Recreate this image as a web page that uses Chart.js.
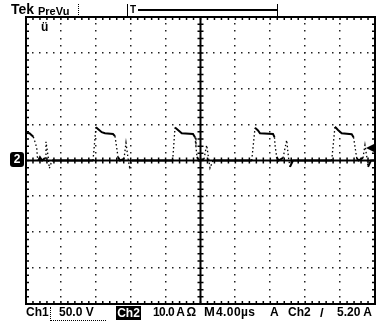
<!DOCTYPE html>
<html>
<head>
<meta charset="utf-8">
<script src="https://cdn.jsdelivr.net/npm/chart.js@4.4.1/dist/chart.umd.min.js"></script>
<style>
  html, body { margin: 0; padding: 0; background: #fff; }
  #scope { position: relative; width: 380px; height: 326px; overflow: hidden;
    font-family: 'Liberation Sans', Arial, sans-serif; font-weight: bold; color: #000; }
  #scope canvas { position: absolute; left: 0; top: 0; }
  .lbl { position: absolute; font-size: 11px; line-height: 12px; white-space: nowrap; }
  .bot { font-size: 12px; line-height: 13px; top: 306px; }
  .inv { background: #000; color: #fff; text-align: center; }
  .line { position: absolute; background: #000; }
</style>
</head>
<body>
<div id="scope">
  <canvas id="scopeChart" width="380" height="326"></canvas>

  <span class="lbl" style="left:11px; top:2px; font-size:14px; line-height:14px">Tek</span>
  <span class="lbl" style="left:38px; top:5px">PreVu</span>
  <div class="line" style="left:78px; top:4px; width:0; height:11px; background:none; border-left:1px dotted #000"></div>
  <div class="line" style="left:127px; top:4px; width:1px; height:12px"></div>
  <span class="lbl" style="left:130px; top:4px; font-size:10px">T</span>
  <div class="line" style="left:138px; top:9px; width:140px; height:2px"></div>
  <div class="line" style="left:277px; top:4px; width:1px; height:12px"></div>

  <span class="lbl" style="left:41px; top:21px; font-size:12px">ü</span>
  <span class="lbl inv" style="left:10px; top:152px; width:14px; height:15px; line-height:15px; border-radius:3px; font-size:12px">2</span>

  <span class="lbl bot" style="left:26px">Ch1</span>
  <div class="line" style="left:50px; top:307px; width:55px; height:13px; background:none; border-left:1px dotted #000; border-bottom:1px dotted #000"></div>
  <span class="lbl bot" id="readCh1Scale" style="left:59px"></span>
  <span class="lbl bot inv" style="left:116px; top:306px; width:25px; height:14px; line-height:14px">Ch2</span>
  <span class="lbl bot" id="readCh2Scale" style="left:153px; letter-spacing:-0.6px"></span>
  <span class="lbl bot" style="left:204px; top:305px; font-size:13px">M</span>
  <span class="lbl bot" id="readTime" style="left:216px; letter-spacing:0.4px"></span>
  <span class="lbl bot" style="left:270px">A</span>
  <span class="lbl bot" id="readTrigSrc" style="left:288px"></span>
  <span class="lbl bot" style="left:320px; font-size:13px">/</span>
  <span class="lbl bot" id="readTrigLevel" style="left:337px"></span>
</div>

<script>
// screen settings
const xDivs = 10;
const yDivs = 8;
const usPerDiv = 4.0;
const ampsPerDiv = 10.0;
const voltsPerDivCh1 = 50.0;
const trigLevelAmps = 5.20;
const trigMarkerAmps = 3.5;   // where the level arrow sits on screen

// Ch2 current trace: time (µs from left edge) and amps
const timeUs = [
  0, 0.4, 0.84, 1.03, 1.23, 1.30, 1.41, 1.6, 1.85, 2.18, 2.29, 2.56, 2.67, 2.98,
  7.68, 8.02, 8.25, 8.68, 9.05, 9.97, 10.2, 10.4, 10.54, 10.77, 11.23, 11.46, 11.69, 11.86, 12.15,
  16.81, 17.08, 17.42, 17.85, 19.14, 19.37, 19.48, 19.6, 19.83, 20.4, 20.71, 20.92, 21.09, 21.43,
  25.87, 26.25, 26.59, 26.82, 28.31, 28.48, 28.54, 28.73, 28.94, 29.46, 29.88, 30.09, 30.26, 30.6,
  35.04, 35.41, 35.76, 36.18, 37.33, 37.54, 37.71, 37.9, 38.11, 38.62, 38.85, 39.08, 39.2, 39.54, 40
];
const ch2Amps = [
  7.7, 7.6, 6.6, 5.2, 3.5, 1.1, 0, 0.9, 0, 0.7, 5.2, 0.7, -2.2, 0,
  0, 9.3, 8.8, 7.9, 7.6, 7.4, 6.8, 3.5, 1.0, 0, 0.4, 4.9, 0.7, -1.8, 0,
  0, 9.2, 8.5, 7.6, 7.4, 6.5, 3.8, 1.0, 0, 0.4, 4.3, 0.7, -2.1, 0,
  0, 9.1, 8.4, 7.6, 7.4, 6.5, 4.3, 1.0, 0, 0.7, 5.7, 0.7, -1.8, 0,
  0, 9.4, 8.5, 7.6, 7.3, 6.5, 3.8, 0.7, 0, 0.7, 4.3, 0.7, -1.8, 0, 0
];

document.getElementById('readCh1Scale').textContent = `${voltsPerDivCh1.toFixed(1)} V`;
document.getElementById('readCh2Scale').textContent = `${ampsPerDiv.toFixed(1)} A Ω`;
document.getElementById('readTime').textContent = `${usPerDiv.toFixed(2)}µs`;
document.getElementById('readTrigSrc').textContent = 'Ch2';
document.getElementById('readTrigLevel').textContent = `${trigLevelAmps.toFixed(2)} A`;

const xMax = xDivs * usPerDiv;
const yMax = (yDivs / 2) * ampsPerDiv;

// graticule: dotted division lines, ticked centre cross, ticked frame
const graticule = {
  id: 'graticule',
  beforeDatasetsDraw(chart) {
    const { ctx, chartArea: area, scales: { x, y } } = chart;
    const xMinor = usPerDiv / 5;
    const yMinor = ampsPerDiv / 5;
    ctx.save();
    ctx.fillStyle = '#222';
    for (let i = 1; i < xDivs; i++) {
      if (i === xDivs / 2) continue;
      const px = Math.round(x.getPixelForValue(i * usPerDiv));
      for (let k = 1; k < yDivs * 5; k++) {
        const py = Math.round(y.getPixelForValue(-yMax + k * yMinor));
        ctx.fillRect(px - 1, py - 1, 1.5, 1.5);
      }
    }
    for (let j = 1; j < yDivs; j++) {
      if (j === yDivs / 2) continue;
      const py = Math.round(y.getPixelForValue(-yMax + j * ampsPerDiv));
      for (let k = 1; k < xDivs * 5; k++) {
        const px = Math.round(x.getPixelForValue(k * xMinor));
        ctx.fillRect(px - 1, py - 1, 1.5, 1.5);
      }
    }

    ctx.strokeStyle = '#000';
    const cx = x.getPixelForValue(xMax / 2);
    const cy = y.getPixelForValue(0);
    ctx.lineWidth = 2;
    ctx.beginPath();
    ctx.moveTo(area.left, cy); ctx.lineTo(area.right, cy);
    ctx.moveTo(cx, area.top); ctx.lineTo(cx, area.bottom);
    ctx.stroke();

    ctx.lineWidth = 1.5;
    ctx.beginPath();
    for (let k = 1; k < xDivs * 5; k++) {
      const px = x.getPixelForValue(k * xMinor);
      ctx.moveTo(px, cy - 3); ctx.lineTo(px, cy + 3);
      ctx.moveTo(px, area.top); ctx.lineTo(px, area.top + 3);
      ctx.moveTo(px, area.bottom); ctx.lineTo(px, area.bottom - 3);
    }
    for (let k = 1; k < yDivs * 5; k++) {
      const py = y.getPixelForValue(-yMax + k * yMinor);
      ctx.moveTo(cx - 3, py); ctx.lineTo(cx + 3, py);
      ctx.moveTo(area.left, py); ctx.lineTo(area.left + 3, py);
      ctx.moveTo(area.right, py); ctx.lineTo(area.right - 3, py);
    }
    ctx.stroke();

    ctx.lineWidth = 2;
    ctx.strokeRect(area.left, area.top, area.right - area.left, area.bottom - area.top);
    ctx.restore();
  },
  afterDatasetsDraw(chart) {
    const { ctx, chartArea: area, scales: { y } } = chart;
    const py = y.getPixelForValue(trigMarkerAmps);
    ctx.save();
    ctx.fillStyle = '#000';
    ctx.beginPath();
    ctx.moveTo(area.right - 9, py);
    ctx.lineTo(area.right - 1, py - 4);
    ctx.lineTo(area.right - 1, py + 4);
    ctx.closePath();
    ctx.fill();
    ctx.restore();
  }
};

const steep = (seg) => Math.abs(seg.p1.y - seg.p0.y) > 2.5 * Math.abs(seg.p1.x - seg.p0.x);

new Chart(document.getElementById('scopeChart'), {
  type: 'line',
  data: {
    datasets: [{
      label: 'Ch2',
      data: timeUs.map((t, i) => ({ x: t, y: ch2Amps[i] })),
      borderColor: '#000',
      borderWidth: 2,
      pointRadius: 0,
      tension: 0,
      segment: {
        borderDash: seg => steep(seg) ? [1.5, 2.5] : undefined,
        borderWidth: seg => steep(seg) ? 1.3 : undefined
      }
    }]
  },
  options: {
    responsive: false,
    animation: false,
    events: [],
    layout: { padding: { left: 26, right: 5, top: 17, bottom: 22 } },
    plugins: { legend: { display: false }, tooltip: { enabled: false } },
    scales: {
      x: { type: 'linear', min: 0, max: xMax, display: false },
      y: { type: 'linear', min: -yMax, max: yMax, display: false }
    }
  },
  plugins: [graticule]
});
</script>
</body>
</html>
